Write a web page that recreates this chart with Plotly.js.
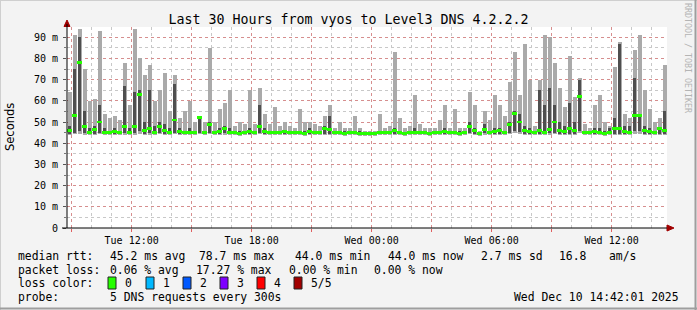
<!DOCTYPE html>
<html><head><meta charset="utf-8">
<script src="https://cdn.plot.ly/plotly-3.0.1.min.js"></script>
<style>html,body{margin:0;padding:0;background:#f3f3f3;overflow:hidden}#chart{width:697px;height:310px}</style>
</head><body><div id="chart"></div>
<script>
// ---- data (15-minute bins, ms) ----
const startTime = [2025, 11, 9, 8, 46]; // Tue Dec 9 08:46
const stepMinutes = 15;
const maxRtt = [
 64,91,94,75,60,61,93,54,52,53,
 51,78,58,94,80,72,77,60,65,73,
 55,72,52,55,60,50,52,50,85,50,
 56,59,65,48,50,49,65,49,66,54,
 49,57,48,50,48,47,56,50,50,49,
 48,53,58,47,50,47,47,53,47,46,
 46,46,54,47,48,83,52,47,48,63,
 49,47,47,47,51,58,47,56,47,47,
 64,58,46,55,51,63,58,53,69,83,
 63,87,70,48,70,91,90,78,66,57,
 81,62,71,49,47,58,63,50,48,76,
 88,54,52,84,91,65,56,50,52,77];
const highRtt = [
 48,75,90,55,47,48,58,47,46,47,
 46,67,47,64,65,50,65,48,50,49,
 47,68,47,46,47,46,53,46,50,46,
 47,48,47,46,46,46,47,46,58,47,
 46,46,46,46,46,46,46,46,47,46,
 46,48,53,46,46,46,46,46,46,45.5,
 45.5,45.5,46,46,46,47,46,45.5,46,47,
 46,46,45.5,46,46,47,46,46,46,46,
 50,47,45.5,49,46,47,47,46,50,55,
 54,48,47,46,65,58,66,58,50,48,
 59,50,70,46,46,47,47,46,47,52,
 87,48,48,71,53,48,47,46,47,55];
const medianRtt = [
 46,53,78,48,45,46.5,50,45,45,45.5,
 45,48,45,48,63,46,47,45,48,46,
 45,51,45.5,45,45,45,52,45,49,45,
 45.5,47,45,45,44.5,45,45.5,45,48,45.5,
 45,45,45,45.5,45,45,45,44.5,45.5,45,
 45,47,46.5,45,45,44.5,45,45,44.5,44.5,
 44.5,44.5,45,45,45,46,45,44.5,45,45,
 45,45,44.5,45,45,45.5,45,45,44.5,45,
 48,46,44.5,46.5,45,45.5,46,45,49,54,
 50,46,45.5,45,46,45,46.5,50,46,45.5,
 47,46,62,45,45,45.5,45,44.5,45,47,
 47,45.5,45,53,53,46,45.5,45,47,46];
const lowRtt = [
 44.6,45,46,45,44.5,44.6,45,44.5,44.4,44.5,
 44.5,45,44.5,45,46,44.6,44.8,44.5,45,44.6,
 44.5,45,44.5,44.4,44.5,44.4,45,44.5,45,44.4,
 44.5,44.8,44.4,44.4,44.2,44.4,44.5,44.4,45,44.5,
 44.4,44.4,44.4,44.5,44.4,44.3,44.4,44.2,44.5,44.4,
 44.3,44.6,44.6,44.3,44.4,44.2,44.4,44.3,44.2,44.2,
 44.2,44.2,44.4,44.3,44.4,44.6,44.4,44.2,44.3,44.4,
 44.3,44.4,44.2,44.3,44.4,44.5,44.3,44.4,44.2,44.3,
 45,44.6,44.2,44.8,44.4,44.5,44.6,44.4,45,46,
 45.5,44.6,44.5,44.4,44.6,44.5,44.8,45,44.6,44.5,
 44.6,44.6,46,44.4,44.4,44.5,44.4,44.2,44.4,44.6,
 44.6,44.5,44.4,46,46,44.6,44.5,44.4,44.6,44.6];
const minRtt = [
 44,44.2,44.5,44,43.8,44,44.2,43.9,43.8,44,
 43.9,44,43.8,44,44.5,44,44.1,43.9,44.2,44,
 43.9,44.2,43.8,43.7,43.9,43.8,44.2,43.9,44.2,43.8,
 44,44,43.8,43.7,43.6,43.8,43.9,43.8,44.2,43.9,
 43.8,43.8,43.7,43.9,43.8,43.7,43.8,43.6,43.9,43.8,
 43.7,43.9,44,43.7,43.8,43.6,43.8,43.7,43.6,43.6,
 43.6,43.6,43.8,43.7,43.8,44,43.8,43.6,43.7,43.8,
 43.7,43.8,43.6,43.7,43.8,43.9,43.7,43.8,43.6,43.7,
 44.2,44,43.6,44.1,43.8,43.9,44,43.8,44.2,44.8,
 44.5,44,43.9,43.8,44,43.9,44.1,44.2,44,43.9,
 44,44,44.8,43.8,43.8,43.9,43.8,43.6,43.8,44,
 44,43.9,43.8,44.5,44.5,44,43.9,43.8,44,44];
const yTickVals = [0,10,20,30,40,50,60,70,80,90];
const yTickText = ['0','10 m','20 m','30 m','40 m','50 m','60 m','70 m','80 m','90 m'];
const xTickLabels = ['','Tue 12:00','','Tue 18:00','','Wed 00:00','','Wed 06:00','','Wed 12:00'];
const lossLabels = ['0','1','2','3','4','5/5'];
const lossColors = ['#26ff00','#00b8ff','#0059ff','#7e00ff','#ff0000','#a10000'];
const rttStats = ['45.2 ms avg','78.7 ms max','44.0 ms min','44.0 ms now','2.7 ms sd','16.8','am/s'];
const lossStats = ['0.06 % avg','17.27 % max','0.00 % min','0.00 % now'];
const probeText = '5 DNS requests every 300s';
const stampText = 'Wed Dec 10 14:42:01 2025';
const titleText = 'Last 30 Hours from vyos to Level3 DNS 4.2.2.2';

// ---- helpers ----
const t0 = Date.UTC(startTime[0], startTime[1], startTime[2], startTime[3], startTime[4]);
const fmt = ms => new Date(ms).toISOString().slice(0,19).replace('T',' ');
const stepMs = stepMinutes*60000;
const times = medianRtt.map((_, i) => fmt(t0 + (i+0.5)*stepMs));
const xStart = fmt(t0), xEnd = fmt(t0 + 30*3600000);
const majorTicks = [], hourTicks = [];
const firstHour = Date.UTC(2025,11,9,9,0);
for (let h = 0; h <= 29; h++) { hourTicks.push(fmt(firstHour + h*3600000)); if (h % 3 === 0) majorTicks.push(fmt(firstHour + h*3600000)); }

const L = 67, R = 667, T = 27, B = 228;
const px = x => (x - L)/(R - L);
const py = y => (B - y)/(B - T);
const nb = s => s.replace(/ /g, '\u00a0');
const mono = 'DejaVu Sans Mono';
const ann = [];
function txt(s, x, y, size, anchor, color) {
  ann.push({text: nb(s), xref:'paper', yref:'paper', x: px(x), y: py(y), xanchor: anchor||'left', yanchor:'middle', showarrow:false, font:{family:mono, size:size||11.4, color: color||'#000'}});
}
const legendX = [108,197,293,386,479,557,607];
txt('median rtt:', 16, 255.5);
rttStats.forEach((s,i)=>txt(s, legendX[i], 255.5));
const lossX = [108,194,287,372];
txt('packet loss:', 16, 269.5);
lossStats.forEach((s,i)=>txt(s, lossX[i], 269.5));
txt('loss color:', 16, 283);
const sqX = [108,146,183,220,257,294];
const shapes = [];
lossLabels.forEach((s,i)=>{
  txt(s, sqX[i]+15, 283);
  shapes.push({type:'rect', xref:'paper', yref:'paper', x0:px(sqX[i]), x1:px(sqX[i]+8), y0:py(277), y1:py(289), fillcolor:lossColors[i], line:{color:'#222', width:1}});
});
txt('probe:', 16, 297);
txt(probeText, 108, 297);
txt(stampText, 681, 297, 11.4, 'right');
// y title
ann.push({text:'Seconds', xref:'paper', yref:'paper', x:px(10), y:py(127), textangle:-90, showarrow:false, xanchor:'center', yanchor:'middle', font:{family:'DejaVu Sans', size:11.5, color:'#000'}});
// watermark
ann.push({text:nb('RRDTOOL / TOBI OETIKER'), xref:'paper', yref:'paper', x:px(688), y:py(58), textangle:90, showarrow:false, xanchor:'center', yanchor:'middle', font:{family:mono, size:8.3, color:'#b4b4b4'}});

// axis arrows
shapes.push({type:'path', xref:'paper', yref:'paper', path:`M ${px(64)} ${py(26.5)} L ${px(70)} ${py(26.5)} L ${px(67)} ${py(20)} Z`, fillcolor:'#a00000', line:{color:'#a00000', width:1}, layer:'above'});
shapes.push({type:'path', xref:'paper', yref:'paper', path:`M ${px(667)} ${py(225)} L ${px(667)} ${py(231)} L ${px(674)} ${py(228)} Z`, fillcolor:'#a00000', line:{color:'#a00000', width:1}, layer:'above'});
shapes.push({type:'line', xref:'paper', yref:'paper', x0:px(67), x1:px(67), y0:py(228), y1:py(24), line:{color:'#000', width:1}, layer:'above'});
shapes.push({type:'line', xref:'paper', yref:'paper', x0:px(62), x1:px(667), y0:py(228), y1:py(228), line:{color:'#000', width:1}, layer:'above'});
// frame
shapes.push({type:'line', xref:'paper', yref:'paper', x0:px(0.5), x1:px(0.5), y0:py(0), y1:py(310), line:{color:'#cfcfcf', width:1}});
shapes.push({type:'line', xref:'paper', yref:'paper', x0:px(0), x1:px(697), y0:py(0.5), y1:py(0.5), line:{color:'#cfcfcf', width:1}});
shapes.push({type:'line', xref:'paper', yref:'paper', x0:px(695.5), x1:px(695.5), y0:py(0), y1:py(310), line:{color:'#9e9e9e', width:2}});
shapes.push({type:'line', xref:'paper', yref:'paper', x0:px(0), x1:px(697), y0:py(308.5), y1:py(308.5), line:{color:'#9e9e9e', width:2}});

const medianThickness = 1.3; // ms, drawn as a thin band like SmokePing
const traces = [
  {type:'bar', x:times, base:minRtt, y:maxRtt.map((v,i)=>v-minRtt[i]), width:stepMs*0.8, marker:{color:'#aaaaaa', line:{width:0}}, hoverinfo:'skip'},
  {type:'bar', x:times, base:lowRtt, y:highRtt.map((v,i)=>v-lowRtt[i]), width:stepMs*0.45, marker:{color:'#4f4f4f', line:{width:0}}, hoverinfo:'skip'},
  {type:'bar', x:times, base:medianRtt.map(v=>v-medianThickness/2), y:medianRtt.map(()=>medianThickness), width:stepMs, marker:{color:lossColors[0], line:{width:0}}, hoverinfo:'skip'}
];

const layout = {
  width:697, height:310, margin:{l:L, r:697-R, t:T, b:310-B, pad:0},
  paper_bgcolor:'#f3f3f3', plot_bgcolor:'#ffffff', showlegend:false, barmode:'overlay', bargap:0,
  title:{text:titleText, font:{family:mono, size:13.3, color:'#000'}, x:0.5, xref:'container', y:1-19/310, yref:'container', yanchor:'middle'},
  xaxis:{type:'date', range:[xStart, xEnd], tickmode:'array', tickvals:majorTicks, ticktext:xTickLabels,
    showgrid:true, gridcolor:'rgba(230,70,70,0.45)', griddash:'dot', gridwidth:1,
    ticks:'outside', ticklen:3, tickcolor:'#e06060', tickfont:{family:mono, size:10, color:'#000'},
    minor:{tickmode:'array', tickvals:hourTicks, showgrid:true, gridcolor:'#c8c8c8', griddash:'dot', gridwidth:1, ticks:''},
    showline:false, zeroline:false, fixedrange:true},
  yaxis:{range:[0, (B-T)/((B-37.3)/90)], tickmode:'array', tickvals:yTickVals, ticktext:yTickText,
    showgrid:true, gridcolor:'rgba(230,70,70,0.45)', griddash:'dot', gridwidth:1,
    ticks:'outside', ticklen:3, tickcolor:'#555', ticklabelstandoff:3, tickfont:{family:mono, size:10, color:'#000'},
    minor:{dtick:5, showgrid:true, gridcolor:'#c8c8c8', griddash:'dot', gridwidth:1, ticks:'outside', ticklen:2, tickcolor:'#777'},
    showline:false, zeroline:false, fixedrange:true},
  annotations:ann, shapes:shapes, hovermode:false
};
Plotly.newPlot('chart', traces, layout, {displayModeBar:false, staticPlot:true});
</script></body></html>
